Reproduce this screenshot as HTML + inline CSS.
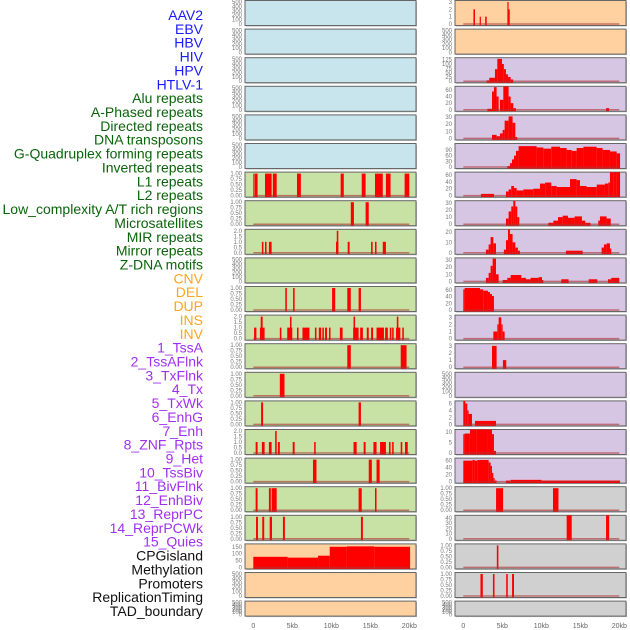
<!DOCTYPE html>
<html><head><meta charset="utf-8"><style>
html,body{margin:0;padding:0;background:#fff;}
svg{display:block;}
</style></head><body>
<svg id="chart" width="630" height="630" viewBox="0 0 630 630" xmlns="http://www.w3.org/2000/svg" font-family="Liberation Sans, sans-serif"></svg>
<script>
const trackLabels = ["AAV2","EBV","HBV","HIV","HPV","HTLV-1","Alu repeats","A-Phased repeats","Directed repeats","DNA transposons","G-Quadruplex forming repeats","Inverted repeats","L1 repeats","L2 repeats","Low_complexity A/T rich regions","Microsatellites","MIR repeats","Mirror repeats","Z-DNA motifs","CNV","DEL","DUP","INS","INV","1_TssA","2_TssAFlnk","3_TxFlnk","4_Tx","5_TxWk","6_EnhG","7_Enh","8_ZNF_Rpts","9_Het","10_TssBiv","11_BivFlnk","12_EnhBiv","13_ReprPC","14_ReprPCWk","15_Quies","CPGisland","Methylation","Promoters","ReplicationTiming","TAD_boundary"];
const labelColors = ["#1a1aff","#1a1aff","#1a1aff","#1a1aff","#1a1aff","#1a1aff","#0a640a","#0a640a","#0a640a","#0a640a","#0a640a","#0a640a","#0a640a","#0a640a","#0a640a","#0a640a","#0a640a","#0a640a","#0a640a","#ffa520","#ffa520","#ffa520","#ffa520","#ffa520","#a030f0","#a030f0","#a030f0","#a030f0","#a030f0","#a030f0","#a030f0","#a030f0","#a030f0","#a030f0","#a030f0","#a030f0","#a030f0","#a030f0","#a030f0","#111","#111","#111","#111","#111"];
const panelFill = ["#c8e4ec","#c8e4ec","#c8e4ec","#c8e4ec","#c8e4ec","#c8e4ec","#c8e2a6","#c8e2a6","#c8e2a6","#c8e2a6","#c8e2a6","#c8e2a6","#c8e2a6","#c8e2a6","#c8e2a6","#c8e2a6","#c8e2a6","#c8e2a6","#c8e2a6","#ffd0a0","#ffd0a0","#ffd0a0","#ffd0a0","#ffd0a0","#d6c6e4","#d6c6e4","#d6c6e4","#d6c6e4","#d6c6e4","#d6c6e4","#d6c6e4","#d6c6e4","#d6c6e4","#d6c6e4","#d6c6e4","#d6c6e4","#d6c6e4","#d6c6e4","#d6c6e4","#d0d0d0","#d0d0d0","#d0d0d0","#d0d0d0","#d0d0d0"];
const T500=["0","100","200","300","400","500"], T1=["0.00","0.25","0.50","0.75","1.00"], T2=["0.0","0.5","1.0","1.5","2.0"];
const yTicks = [T500,T500,T500,T500,T500,T500,T1,T1,T2,T500,T1,T2,T1,T1,T1,T2,T1,T1,T1,["0","50","100","150"],T500,T500,
 ["0","1","2","3"],T500,["0","25","50","75","100","125"],["0","20","40","60"],["0","10","20","30"],["0","30","60","90"],["0","20","40","60"],["0","10","20","30"],["0","10","20"],["0","10","20","30"],["0","20","40","60"],["0","1","2","3"],["0","1","2","3"],T500,["0","2","4","6"],["0","5","10"],["0","20","40","60"],T1,["0","10","20","30","40"],T1,T1,T500];
const yMax = [500,500,500,500,500,500,1,1,2,500,1,2,1,1,1,2,1,1,1,160,500,500,3,500,128,66,31,116,64,31,21,31,66,3.1,3.1,500,6.3,10.5,63,1,42,1,1,500];
const xTickLabels = ["0","5kb","10kb","15kb","20kb"];
const xTickValues = [0,5,10,15,20];

const AAV2=[],EBV=[],HBV=[],HIV=[],HPV=[],HTLV1=[];
const Alu=[[0,0.05,1],[0.2,0.55,1],[1.5,2.35,1],[2.5,3.0,1],[5.6,6.1,1],[11.2,11.6,1],[13.9,14.4,1],[15.6,16.6,1],[17.0,17.6,1],[19.4,20.0,1]];
const APhased=[[12.5,12.9,1],[14.4,14.8,1]];
const Directed=[[1.1,1.3,1],[1.5,1.7,1],[2.0,2.35,1],[10.6,10.9,1],[10.7,10.9,2],[12.1,12.35,1],[15.1,15.3,1],[15.6,15.8,1],[16.6,17.0,1]];
const DNAtrans=[];
const GQuad=[[4.1,4.3,1],[5.1,5.3,1],[10.1,10.5,1],[12.05,12.5,1],[13.5,13.8,1]];
const Inverted=[[0.1,0.4,1],[0.85,1.45,1],[0.95,1.2,2],[3.4,3.6,1],[4.35,5.0,1],[4.7,4.9,2],[5.6,5.8,1],[6.3,7.2,1],[7.9,8.1,1],[8.4,8.7,1],[8.85,9.05,1],[9.2,9.45,1],[9.7,9.9,1],[11.1,11.45,1],[12.8,13.5,1],[12.85,13.05,2],[13.7,14.05,1],[14.55,14.8,1],[15.1,15.35,1],[15.8,16.75,1],[16.9,17.25,1],[17.5,17.7,1],[17.8,18.0,1],[18.3,18.85,1],[18.4,18.6,2],[19.1,19.3,1]];
const L1=[[12.05,12.5,1],[18.9,19.65,1]];
const L2=[[3.4,4.0,1]];
const LowComplex=[[1.0,1.25,1],[13.5,13.8,1]];
const Microsat=[[0.3,0.55,1],[1.1,1.45,1],[2.0,2.35,1],[2.8,3.0,2],[3.15,3.4,1],[5.05,5.3,1],[7.8,8.0,1],[12.85,13.25,1],[14.15,14.4,1],[15.4,15.8,1],[16.25,17.0,1],[17.4,17.6,1],[17.8,18.0,1],[18.9,19.1,1],[19.45,19.8,1]];
const MIR=[[7.65,8.1,1],[14.8,15.2,1],[15.8,16.2,1]];
const Mirror=[[0.3,0.55,1],[2.0,2.25,1],[2.35,3.0,1],[13.5,13.9,1],[15.6,15.8,1]];
const ZDNA=[[0.35,0.6,1],[1.15,1.4,1],[2.1,2.4,1],[3.8,4.05,1],[13.8,14.05,1]];
const CNV=[[0,4.4,77],[4.4,8.3,71],[8.3,9.8,85],[9.8,12,150],[12,15.5,153],[15.5,20.1,150]];
const DEL=[],DUP=[];
const INS=[[1.3,1.5,2],[2.1,2.25,1],[2.8,3.0,1],[5.65,5.8,3],[5.8,5.9,2]];
const INV=[];
const TssA=[[3.0,3.33,5],[3.33,4.06,20],[4.06,4.36,70],[4.36,4.96,130],[4.96,5.2,100],[5.2,5.47,70],[5.47,5.73,40],[5.73,6.07,25],[6.07,6.4,10]];
const TssAFlnk=[[3.08,3.68,3],[3.68,3.93,55],[3.93,4.27,68],[4.27,4.53,40],[4.7,5.13,30],[5.13,5.81,70],[5.81,6.07,40],[6.07,6.41,20],[6.41,6.75,5],[18.3,18.7,5]];
const TxFlnk=[[3.68,4.27,5],[4.27,4.7,3],[4.7,5.04,7],[5.04,5.3,12],[5.3,5.81,25],[5.81,6.32,31],[6.32,6.67,22],[6.67,6.92,2]];
const Tx=[[5.64,5.98,5],[5.98,6.24,20],[6.24,6.5,40],[6.5,6.75,60],[6.75,7.09,85],[7.09,9.4,110],[9.4,10.26,103],[10.26,11.28,97],[11.28,12.4,107],[12.4,13.25,100],[13.25,13.9,90],[13.9,14.53,85],[14.53,15.4,100],[15.4,17.1,107],[17.1,17.86,100],[17.86,18.8,90],[18.8,19.66,82],[19.66,20.1,72]];
const TxWk=[[2.26,3.93,5],[5.47,5.81,12],[5.81,6.15,18],[6.15,6.5,28],[6.5,6.84,22],[6.84,7.7,15],[7.7,8.97,18],[8.97,9.83,20],[9.83,10.5,35],[10.5,11.28,38],[11.28,11.97,28],[11.97,13.68,25],[13.68,14.53,48],[14.53,14.96,45],[14.96,15.8,28],[15.8,17.1,25],[17.1,18.16,32],[18.16,18.59,35],[18.59,18.8,38],[18.8,19.23,68],[19.23,19.66,72],[19.66,20.1,78]];
const EnhG=[[5.47,5.81,8],[5.81,6.15,18],[6.15,6.41,25],[6.41,6.67,35],[6.67,6.92,25],[6.92,7.18,10],[10.9,11.54,2],[11.54,12.14,5],[12.14,12.74,10],[12.74,13.42,12],[13.42,14.27,9],[14.27,15.21,11],[15.21,15.64,5],[15.64,16.3,2],[17.3,17.52,5],[17.52,18.37,11],[18.37,18.9,8]];
const Enh=[[2.9,3.25,3],[3.25,3.5,8],[3.5,3.85,15],[3.85,4.19,9],[5.2,5.47,3],[5.47,5.73,12],[5.73,5.98,25],[5.98,6.32,18],[6.32,6.67,10],[6.67,7.0,5],[7.0,7.26,2],[13.16,15.3,2],[17.73,18.03,5],[18.03,18.38,8],[18.38,18.8,9],[18.8,18.97,4]];
const ZNF=[[2.9,3.25,5],[3.25,3.5,12],[3.5,3.76,22],[3.76,4.19,32],[4.19,4.53,10],[5.04,5.64,2],[5.64,6.07,5],[6.07,7.44,9],[7.44,8.03,5],[8.03,8.63,3],[8.63,9.66,5],[9.66,10.09,6],[10.09,10.26,2],[12.56,13.5,3],[16.07,17.18,3],[18.55,18.97,3],[18.97,20.0,5]];
const Het=[[0,0.17,62],[0.17,2.14,66],[2.14,2.56,62],[2.56,3.16,58],[3.16,3.42,54],[3.42,3.68,48],[3.68,3.93,42]];
const TssBiv=[[3.85,4.36,1],[4.36,4.53,2],[4.53,4.87,3],[4.87,5.04,2],[5.04,5.3,1]];
const BivFlnk=[[3.68,4.27,3],[5.08,5.51,1]];
const EnhBiv=[];
const ReprPC=[[0,0.26,7],[0.26,0.51,6],[0.51,0.68,4],[0.68,1.11,3],[1.5,4.19,1]];
const ReprPCWk=[[0,0.17,9],[0.17,0.85,9.3],[0.85,1.71,13],[1.71,3.16,12.7],[3.16,3.68,11.5],[3.68,3.93,9],[3.93,4.19,1]];
const Quies=[[0,1.2,60],[1.2,1.45,62],[1.45,1.8,60],[1.8,3.25,62],[3.25,3.5,55],[3.5,3.68,45],[3.68,3.85,25],[3.85,4.02,10],[4.02,4.27,3],[5.47,6.07,3],[6.07,10.04,5],[10.04,20.1,3]];
const CPG=[[4.2,5.1,1],[11.5,12.2,1]];
const Methyl=[[13.25,13.9,45],[18.3,18.7,45]];
const Promoters=[[4.3,4.5,1]];
const RepTiming=[[2.2,2.5,1],[3.8,4.0,1],[5.5,5.7,1],[6.25,6.5,1]];
const TAD=[];
const trackData=[AAV2,EBV,HBV,HIV,HPV,HTLV1,Alu,APhased,Directed,DNAtrans,GQuad,Inverted,L1,L2,LowComplex,Microsat,MIR,Mirror,ZDNA,CNV,DEL,DUP,INS,INV,TssA,TssAFlnk,TxFlnk,Tx,TxWk,EnhG,Enh,ZNF,Het,TssBiv,BivFlnk,EnhBiv,ReprPC,ReprPCWk,Quies,CPG,Methyl,Promoters,RepTiming,TAD];

const NS="http://www.w3.org/2000/svg";
const svg=document.getElementById('chart');
function mk(tag,attrs,parent){const e=document.createElementNS(NS,tag);for(const k in attrs)e.setAttribute(k,attrs[k]);(parent||svg).appendChild(e);return e;}
function slug(s){return s.toLowerCase().replace(/[^a-z0-9]+/g,'-').replace(/^-|-$/g,'');}

trackLabels.forEach((t,i)=>{
  const el=mk('text',{x:203,y:20+i*13.86,'text-anchor':'end','font-size':14,fill:labelColors[i]});
  el.textContent=t;
  
  
});

const colX=[245,455], panelW=171, x0off=8.3, kbPx=7.8;
function xScale(col,kb){return colX[col]+x0off+kb*kbPx;}

for(let i=0;i<44;i++){
  const col=i<22?0:1, row=i%22;
  const top=0.5+row*28.6, h=(row===21)?15:25, bottom=top+h;
  const g=mk('g',{});
  
  
  const clipId='c'+i;
  const cp=mk('clipPath',{id:clipId},g);mk('rect',{x:colX[col],y:top,width:panelW,height:h},cp);
  mk('rect',{x:colX[col]+1,y:top+1,width:panelW,height:h,fill:'#bbb'},g);
  const r=mk('rect',{x:colX[col],y:top,width:panelW,height:h,fill:panelFill[i],stroke:'#666','stroke-width':1},g);
  
  
  const ymax=yMax[i];
  function yScale(v){return bottom-1.5-v/ymax*(h-3);}
  const ticks=yTicks[i];
  ticks.forEach(tl=>{
    const v=parseFloat(tl);
    const t=mk('text',{x:colX[col]-3,y:yScale(v)+2,'text-anchor':'end','font-size':6,fill:'#777'},g);
    t.textContent=tl;
    
    
  });
  if(trackData[i].length===0) continue;
  const bars=mk('g',{'clip-path':'url(#'+clipId+')'},g);
  trackData[i].forEach(s=>{
    const xa=xScale(col,Math.max(0,s[0])), xb=xScale(col,s[1]);
    const yv=Math.max(top,yScale(s[2]));
    const b=mk('rect',{x:xa,y:yv,width:Math.max(1.2,xb-xa),height:yScale(0)-yv+1.5,fill:'#ff0000'},bars);
    
    
  });
  const bl=mk('line',{x1:xScale(col,0),x2:xScale(col,20),y1:yScale(0),y2:yScale(0),stroke:'#b03030','stroke-opacity':0.6,'stroke-width':1.5},g);
  
  
}
[0,1].forEach(col=>{
  xTickValues.forEach((v,k)=>{
    const t=mk('text',{x:xScale(col,v),y:628,'text-anchor':'middle','font-size':7,fill:'#666'});
    t.textContent=xTickLabels[k];
    
    
  });
});
</script>
</body></html>
